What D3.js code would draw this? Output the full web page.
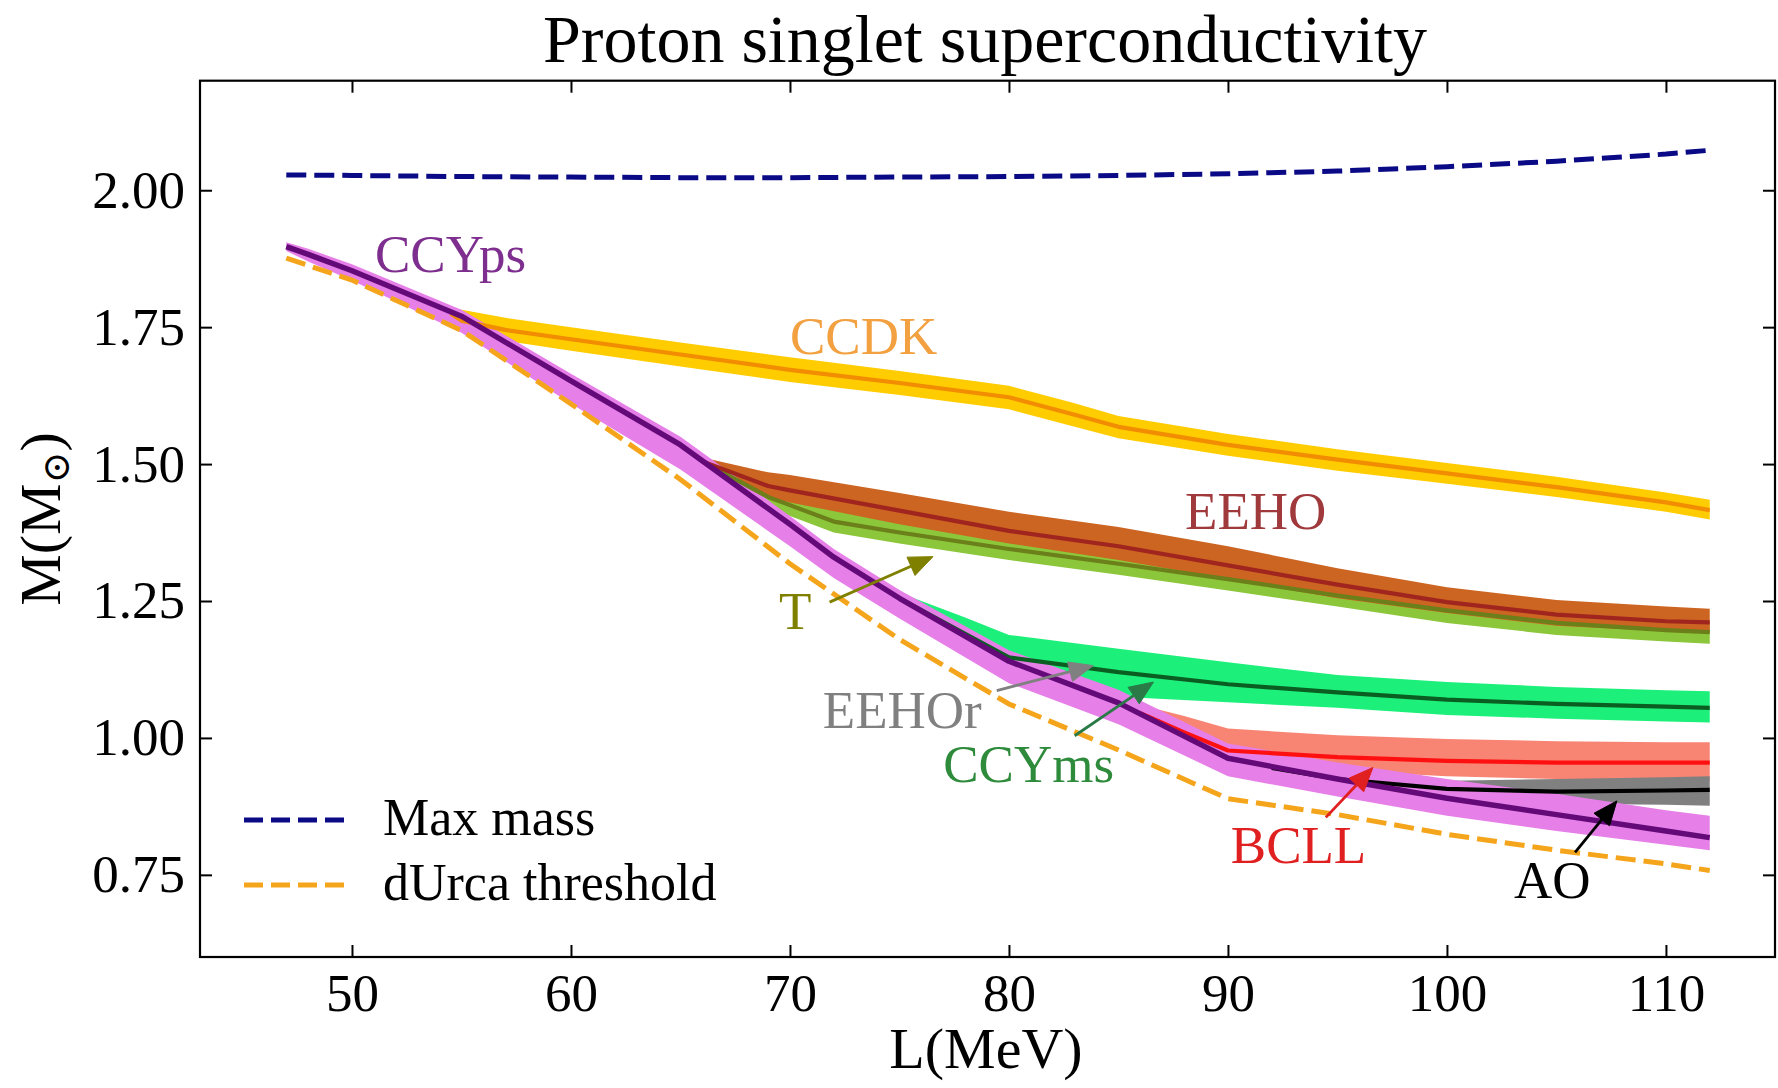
<!DOCTYPE html>
<html><head><meta charset="utf-8">
<script src="https://cdn.jsdelivr.net/npm/d3@7"></script>
<style>
body{margin:0;background:#fff;}
svg{display:block;}
text{font-family:"Liberation Serif","DejaVu Serif",serif;}
</style>
</head><body>
<svg id="chart" width="1778" height="1088"></svg>
<script>
// ---------- data ----------
const xTicks = [50, 60, 70, 80, 90, 100, 110];
const yTicks = [0.75, 1.00, 1.25, 1.50, 1.75, 2.00];

const maxMassL = [47, 50, 55, 60, 65, 70, 75, 80, 85, 90, 95, 100, 105, 110, 112];
const maxMassM = [2.028, 2.027, 2.025, 2.024, 2.023, 2.023, 2.024, 2.025, 2.027, 2.030, 2.035, 2.043, 2.053, 2.066, 2.073];

const durcaL = [47, 50, 55, 60, 65, 70, 75, 80, 85, 90, 95, 100, 105, 110, 112];
const durcaM = [1.876, 1.836, 1.744, 1.610, 1.472, 1.318, 1.180, 1.062, 0.978, 0.889, 0.860, 0.824, 0.795, 0.770, 0.758];

const ccdkL  = [54.5, 55, 57, 60, 65, 70, 75, 80, 83, 85, 90, 95, 100, 105, 110, 112];
const ccdkM  = [1.775, 1.762, 1.745, 1.728, 1.700, 1.672, 1.648, 1.622, 1.590, 1.568, 1.535, 1.508, 1.483, 1.458, 1.430, 1.416];
const ccdkHi = [1.782, 1.782, 1.767, 1.750, 1.722, 1.695, 1.670, 1.643, 1.611, 1.588, 1.555, 1.527, 1.502, 1.477, 1.448, 1.435];
const ccdkLo = [1.768, 1.745, 1.725, 1.707, 1.678, 1.650, 1.626, 1.600, 1.568, 1.547, 1.515, 1.488, 1.464, 1.440, 1.413, 1.399];

const tL  = [66, 69, 70, 72, 75, 80, 85, 90, 95, 100, 105, 110, 112];
const tM  = [1.505, 1.440, 1.425, 1.395, 1.375, 1.345, 1.318, 1.290, 1.260, 1.233, 1.210, 1.197, 1.193];
const tHi = [1.510, 1.460, 1.450, 1.420, 1.400, 1.370, 1.345, 1.315, 1.285, 1.255, 1.230, 1.215, 1.210];
const tLo = [1.500, 1.425, 1.405, 1.375, 1.355, 1.325, 1.298, 1.269, 1.240, 1.210, 1.188, 1.176, 1.172];

const eehoL  = [66, 69, 70, 75, 80, 85, 90, 95, 100, 105, 110, 112];
const eehoM  = [1.505, 1.460, 1.452, 1.415, 1.378, 1.350, 1.315, 1.280, 1.248, 1.225, 1.213, 1.211];
const eehoHi = [1.512, 1.485, 1.480, 1.447, 1.413, 1.385, 1.350, 1.310, 1.275, 1.252, 1.240, 1.236];
const eehoLo = [1.498, 1.440, 1.430, 1.390, 1.355, 1.325, 1.290, 1.255, 1.228, 1.205, 1.195, 1.192];

const ccymsL  = [75, 78, 80, 85, 90, 95, 100, 105, 110, 112];
const ccymsM  = [1.255, 1.190, 1.147, 1.120, 1.098, 1.083, 1.070, 1.062, 1.057, 1.055];
const ccymsHi = [1.265, 1.220, 1.188, 1.163, 1.138, 1.115, 1.102, 1.093, 1.087, 1.085];
const ccymsLo = [1.245, 1.170, 1.125, 1.075, 1.065, 1.055, 1.042, 1.035, 1.030, 1.028];

const bcllL  = [86, 88, 90, 95, 100, 105, 110, 112];
const bcllM  = [1.045, 1.010, 0.977, 0.965, 0.958, 0.955, 0.955, 0.955];
const bcllHi = [1.060, 1.040, 1.017, 1.005, 0.998, 0.994, 0.992, 0.992];
const bcllLo = [1.030, 0.990, 0.955, 0.940, 0.930, 0.925, 0.922, 0.922];

const aoL  = [92, 95, 100, 105, 110, 112];
const aoM  = [0.945, 0.925, 0.907, 0.902, 0.904, 0.905];
const aoHi = [0.950, 0.935, 0.922, 0.925, 0.928, 0.930];
const aoLo = [0.940, 0.915, 0.890, 0.880, 0.878, 0.876];

const ccypsL  = [47, 48, 50, 55, 60, 65, 70, 72, 75, 80, 85, 90, 95, 100, 105, 110, 112];
const ccypsM  = [1.897, 1.883, 1.853, 1.770, 1.652, 1.535, 1.390, 1.330, 1.255, 1.140, 1.064, 0.963, 0.925, 0.890, 0.860, 0.830, 0.818];
const ccypsHi = [1.905, 1.893, 1.865, 1.782, 1.665, 1.550, 1.405, 1.345, 1.270, 1.160, 1.088, 0.990, 0.955, 0.925, 0.898, 0.868, 0.858];
const ccypsLo = [1.889, 1.870, 1.835, 1.740, 1.610, 1.490, 1.350, 1.292, 1.218, 1.100, 1.025, 0.930, 0.893, 0.858, 0.830, 0.805, 0.795];

// annotation labels (data coords: left/baseline) and arrows (start -> tip)
const labelNames = ["CCYps", "CCDK", "EEHO", "T", "EEHOr", "CCYms", "BCLL", "AO"];
const labelL = [51.05, 70.0, 88.04, 69.5, 71.5, 77.0, 90.13, 103.06];
const labelM = [1.851, 1.701, 1.382, 1.199, 1.019, 0.919, 0.7725, 0.7085];
const arrowNames = ["T", "EEHOr", "CCYms", "BCLL", "AO"];
const arrowFromL = [71.81, 79.44, 83.0, 94.47, 105.85];
const arrowFromM = [1.248, 1.0865, 1.004, 0.855, 0.791];
const arrowToL = [76.53, 83.85, 86.6, 96.62, 107.76];
const arrowToM = [1.331, 1.132, 1.102, 0.946, 0.885];

const legendNames = ["Max mass", "dUrca threshold"];

// ---------- styles ----------
const colors = {
  CCDK:  {band: "#FFCC00", line: "#F28C00", label: "#F2A040"},
  T:     {band: "#8CC63A", line: "#6B7F1A", label: "#808000"},
  EEHO:  {band: "#CC6422", line: "#A0251E", label: "#A0393C"},
  CCYms: {band: "#1CF07A", line: "#0B5E22", label: "#2E8B3C", arrow: "#2A7A48"},
  BCLL:  {band: "#F88474", line: "#FF1010", label: "#E02020"},
  AO:    {band: "#808080", line: "#000000", label: "#000000"},
  CCYps: {band: "#E680E8", line: "#640A78", label: "#7D2E8E"},
  EEHOr: {label: "#808080", arrow: "#808080"}
};
const maxMassColor = "#0A0A86";
const durcaColor = "#F5A51C";

// ---------- layout ----------
const svg = d3.select("#chart");
const pLeft = 200, pRight = 1775, pTop = 80.7, pBottom = 957;
const x = d3.scaleLinear().domain([43.06, 114.98]).range([pLeft, pRight]);
const y = d3.scaleLinear().domain([0.6, 2.2]).range([pBottom, pTop]);

svg.append("defs").append("clipPath").attr("id", "clip")
  .append("rect").attr("x", pLeft).attr("y", pTop).attr("width", pRight - pLeft).attr("height", pBottom - pTop);

const plot = svg.append("g").attr("clip-path", "url(#clip)");

const series = [
  {name: "CCDK", L: ccdkL, M: ccdkM, hi: ccdkHi, lo: ccdkLo},
  {name: "T", L: tL, M: tM, hi: tHi, lo: tLo},
  {name: "EEHO", L: eehoL, M: eehoM, hi: eehoHi, lo: eehoLo},
  {name: "CCYms", L: ccymsL, M: ccymsM, hi: ccymsHi, lo: ccymsLo},
  {name: "BCLL", L: bcllL, M: bcllM, hi: bcllHi, lo: bcllLo},
  {name: "AO", L: aoL, M: aoM, hi: aoHi, lo: aoLo},
  {name: "CCYps", L: ccypsL, M: ccypsM, hi: ccypsHi, lo: ccypsLo}
];

const area = d3.area().x(d => x(d.L)).y0(d => y(d.lo)).y1(d => y(d.hi));
const line = d3.line().x(d => x(d.L)).y(d => y(d.M));

function pts(s) { return s.L.map((L, i) => ({L, M: s.M[i], hi: s.hi ? s.hi[i] : null, lo: s.lo ? s.lo[i] : null})); }

series.forEach(s => {
  plot.append("path").datum(pts(s)).attr("d", area)
    .attr("fill", colors[s.name].band).attr("stroke", "none");
});
series.forEach(s => {
  plot.append("path").datum(pts(s)).attr("d", line)
    .attr("fill", "none").attr("stroke", colors[s.name].line)
    .attr("stroke-width", s.name === "CCYps" ? 5.5 : 4.2)
    .attr("stroke-linejoin", "round");
});

// dashed reference curves
plot.append("path").datum(pts({L: durcaL, M: durcaM})).attr("d", line)
  .attr("fill", "none").attr("stroke", durcaColor).attr("stroke-width", 5).attr("stroke-dasharray", "20,8");
plot.append("path").datum(pts({L: maxMassL, M: maxMassM})).attr("d", line)
  .attr("fill", "none").attr("stroke", maxMassColor).attr("stroke-width", 5).attr("stroke-dasharray", "20,8");

// arrows
arrowNames.forEach((n, i) => {
  const x0 = x(arrowFromL[i]), y0 = y(arrowFromM[i]);
  const x1 = x(arrowToL[i]), y1 = y(arrowToM[i]);
  const dx = x1 - x0, dy = y1 - y0, len = Math.hypot(dx, dy);
  const ux = dx / len, uy = dy / len;
  const hl = 24, hw = 10;
  const bx = x1 - ux * hl, by = y1 - uy * hl;
  const c = colors[n].arrow || colors[n].label;
  svg.append("line").attr("x1", x0).attr("y1", y0).attr("x2", bx).attr("y2", by)
    .attr("stroke", c).attr("stroke-width", 2.8);
  svg.append("polygon")
    .attr("points", [[x1, y1], [bx - uy * hw, by + ux * hw], [bx + uy * hw, by - ux * hw]].map(p => p.join(",")).join(" "))
    .attr("fill", c).attr("stroke", c).attr("stroke-width", 1);
});

// labels
labelNames.forEach((n, i) => {
  svg.append("text").attr("x", x(labelL[i])).attr("y", y(labelM[i]))
    .attr("font-size", 53).attr("fill", colors[n].label).text(n);
});

// axes
function styleAxis(g, fs) {
  g.select(".domain").remove();
  g.selectAll(".tick line").attr("stroke", "#000").attr("stroke-width", 2);
  g.selectAll(".tick text").attr("font-size", fs).attr("fill", "#000")
    .attr("font-family", "'Liberation Serif','DejaVu Serif',serif");
  g.attr("font-family", null).attr("font-size", null);
}
svg.append("g").attr("transform", `translate(0,${pBottom})`)
  .call(d3.axisBottom(x).tickValues(xTicks).tickSize(-12).tickSizeOuter(0).tickPadding(16).tickFormat(d3.format("d")))
  .call(g => styleAxis(g, 53));
svg.append("g").attr("transform", `translate(0,${pTop})`)
  .call(d3.axisTop(x).tickValues(xTicks).tickSize(-12).tickSizeOuter(0).tickFormat(""))
  .call(g => styleAxis(g, 53));
svg.append("g").attr("transform", `translate(${pLeft},0)`)
  .call(d3.axisLeft(y).tickValues(yTicks).tickSize(-12).tickSizeOuter(0).tickPadding(15).tickFormat(d3.format(".2f")))
  .call(g => styleAxis(g, 53));
svg.append("g").attr("transform", `translate(${pRight},0)`)
  .call(d3.axisRight(y).tickValues(yTicks).tickSize(-12).tickSizeOuter(0).tickFormat(""))
  .call(g => styleAxis(g, 53));

svg.append("rect").attr("x", pLeft).attr("y", pTop).attr("width", pRight - pLeft).attr("height", pBottom - pTop)
  .attr("fill", "none").attr("stroke", "#000").attr("stroke-width", 2.2);

// legend
const legColors = [maxMassColor, durcaColor];
const legY = [820, 885];
legendNames.forEach((n, i) => {
  svg.append("line").attr("x1", 244).attr("x2", 344).attr("y1", legY[i]).attr("y2", legY[i])
    .attr("stroke", legColors[i]).attr("stroke-width", 5).attr("stroke-dasharray", "19,8");
  svg.append("text").attr("x", 383).attr("y", legY[i] + 15).attr("font-size", 52).attr("fill", "#000").text(n);
});

// title and axis labels
svg.append("text").attr("x", 985).attr("y", 62).attr("text-anchor", "middle")
  .attr("font-size", 68).attr("fill", "#000").text("Proton singlet superconductivity");
svg.append("text").attr("x", 986).attr("y", 1068).attr("text-anchor", "middle")
  .attr("font-size", 58).attr("fill", "#000").text("L(MeV)");
const yl = svg.append("text").attr("transform", "translate(60,519) rotate(-90)").attr("text-anchor", "middle")
  .attr("font-size", 58).attr("fill", "#000");
yl.append("tspan").text("M(M");
yl.append("tspan").attr("dy", 9).attr("font-size", 38).text("\u2299");
yl.append("tspan").attr("dy", -9).text(")");
</script>
</body></html>
